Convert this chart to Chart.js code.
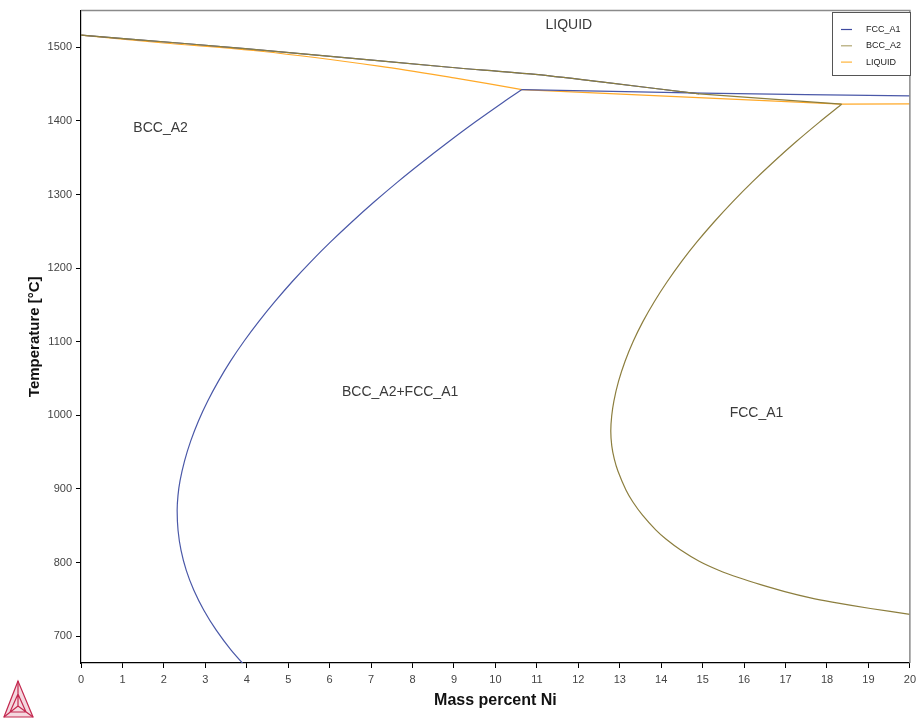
<!DOCTYPE html>
<html>
<head>
<meta charset="utf-8">
<script src="https://cdn.jsdelivr.net/npm/chart.js@4"></script>
<style>
  html, body { margin: 0; padding: 0; background: #fff; }
</style>
</head>
<body>
<canvas id="diagram" width="921" height="720"></canvas>
<script>
// axis ticks
const niTicks = [0, 1, 2, 3, 4, 5, 6, 7, 8, 9, 10, 11, 12, 13, 14, 15, 16, 17, 18, 19, 20];
const tempTicks = [700, 800, 900, 1000, 1100, 1200, 1300, 1400, 1500];

// upper liquidus line (drawn by both FCC_A1 and BCC_A2)
const liquidusNi = [0, 2.5, 5.42, 8.89, 10.84, 12.5, 14.92];
const liquidusT = [1516.6, 1505.3, 1490.9, 1473.0, 1463.9, 1453.4, 1436.8];
const bccTopNi = [14.92, 18.35];
const bccTopT = [1436.8, 1422.8];

// FCC_A1 lines
const fccTopNi = [10.64, 15.0, 20];
const fccTopT = [1442.7, 1437.9, 1434.0];
const fccBoundNi = [10.643, 10.188, 9.511, 8.863, 8.239, 7.643, 7.077, 6.540, 6.029, 5.549, 5.099, 4.682,
  4.292, 3.933, 3.607, 3.316, 3.058, 2.834, 2.648, 2.499, 2.390, 2.340, 2.320, 2.342, 2.414, 2.540,
  2.723, 2.964, 3.263, 3.622, 4.046];
const fccBoundT = [1442.7, 1425.5, 1398.5, 1371.4, 1344.3, 1317.3, 1290.2, 1263.1, 1236.0, 1209.0, 1181.9, 1154.8,
  1127.7, 1100.7, 1073.6, 1046.5, 1019.5, 992.4, 965.3, 938.2, 911.2, 890.9, 870.6, 843.5, 816.4, 789.3,
  762.3, 735.2, 708.1, 681.1, 654.0];

// BCC_A2 boundary of the FCC field
const bccBoundNi = [18.354, 17.817, 17.246, 16.708, 16.200, 15.723, 15.280, 14.867, 14.489, 14.147, 13.836,
  13.561, 13.325, 13.128, 12.971, 12.858, 12.805, 12.783, 12.807, 12.867, 12.957, 13.149, 13.313, 13.549,
  13.867, 14.113, 14.470, 14.916, 15.386, 15.880, 16.398, 17.005, 17.602, 18.128, 19.048, 20];
const bccBoundT = [1422.8, 1398.5, 1371.4, 1344.3, 1317.3, 1290.2, 1263.1, 1236.0, 1209.0, 1181.9, 1154.8,
  1127.7, 1100.7, 1073.6, 1046.5, 1019.5, 999.2, 978.9, 958.5, 940.8, 924.0, 898.6, 882.6, 864.3,
  844.4, 832.0, 817.0, 801.8, 789.6, 779.3, 770.0, 760.2, 752.0, 746.3, 737.6, 729.6];

// LIQUID lines
const liqSolidusNi = [0, 2.0, 4.34, 7.23, 9.0, 10.64];
const liqSolidusT = [1516.6, 1506.0, 1494.8, 1474.3, 1458.5, 1442.7];
const liqFlatNi = [10.64, 18.35, 20];
const liqFlatT = [1442.7, 1422.8, 1423.3];

// region names
const regionNames = ['LIQUID', 'BCC_A2', 'BCC_A2+FCC_A1', 'FCC_A1'];
const regionNi = [11.77, 1.92, 7.70, 16.30];
const regionT = [1529.8, 1390.4, 1031.6, 1003.2];

const phaseNames = ['FCC_A1', 'BCC_A2', 'LIQUID'];
const phaseColors = ['#4a58a8', '#8c7e3e', '#ffa928'];
const legendColors = ['#3e4aa0', '#b0a672', '#ffb43a'];

function pts(xs, ys) {
  return xs.map((x, i) => ({ x, y: ys[i] }));
}

function line(phase, xs, ys, tension) {
  return {
    label: phaseNames[phase],
    data: pts(xs, ys),
    borderColor: phaseColors[phase],
    borderWidth: 1.2,
    pointRadius: 0,
    showLine: true,
    fill: false,
    tension: tension,
  };
}

const datasets = [
  line(1, liquidusNi, liquidusT, 0.3),
  line(1, bccTopNi, bccTopT, 0),
  line(1, bccBoundNi, bccBoundT, 0.25),
  line(0, liquidusNi, liquidusT, 0.3),
  line(0, fccTopNi, fccTopT, 0.2),
  line(0, fccBoundNi, fccBoundT, 0.25),
  line(2, liqSolidusNi, liqSolidusT, 0.3),
  line(2, liqFlatNi, liqFlatT, 0),
];

const extras = {
  id: 'extras',
  afterDraw(chart) {
    const ctx = chart.ctx;
    const area = chart.chartArea;
    const xs = chart.scales.x;
    const ys = chart.scales.y;
    ctx.save();

    // grey frame on top and right
    ctx.strokeStyle = '#8a8a8a';
    ctx.lineWidth = 1.5;
    ctx.beginPath();
    ctx.moveTo(area.left, area.top);
    ctx.lineTo(area.right, area.top);
    ctx.lineTo(area.right, area.bottom);
    ctx.stroke();

    // region labels
    ctx.fillStyle = '#3a3a3a';
    ctx.font = '14px "Liberation Sans", Arial, sans-serif';
    ctx.textAlign = 'center';
    ctx.textBaseline = 'middle';
    regionNames.forEach((name, i) => {
      ctx.fillText(name, xs.getPixelForValue(regionNi[i]), ys.getPixelForValue(regionT[i]));
    });

    // legend box
    const lx = 832.5, ly = 12.5, lw = 78, lh = 63;
    ctx.fillStyle = '#fff';
    ctx.fillRect(lx, ly, lw, lh);
    ctx.strokeStyle = '#555';
    ctx.lineWidth = 1;
    ctx.strokeRect(lx, ly, lw, lh);
    ctx.font = '9px "Liberation Sans Narrow", "Liberation Sans", sans-serif';
    ctx.textAlign = 'left';
    phaseNames.forEach((name, i) => {
      const y = 29.5 + i * 16.3;
      ctx.strokeStyle = legendColors[i];
      ctx.lineWidth = 1.2;
      ctx.beginPath();
      ctx.moveTo(841, y);
      ctx.lineTo(852, y);
      ctx.stroke();
      ctx.fillStyle = '#222';
      ctx.fillText(name, 866, y);
    });

    // logo
    ctx.strokeStyle = '#c3284f';
    ctx.fillStyle = 'rgba(195, 40, 79, 0.18)';
    ctx.lineWidth = 1.2;
    ctx.beginPath();
    ctx.moveTo(18, 681);
    ctx.lineTo(4, 717);
    ctx.lineTo(33, 717);
    ctx.closePath();
    ctx.fill();
    ctx.stroke();
    ctx.beginPath();
    ctx.moveTo(18, 681); ctx.lineTo(18, 706);
    ctx.moveTo(4, 717); ctx.lineTo(18, 706);
    ctx.moveTo(33, 717); ctx.lineTo(18, 706);
    ctx.moveTo(10, 712); ctx.lineTo(26, 712);
    ctx.moveTo(10, 712); ctx.lineTo(18, 694);
    ctx.moveTo(26, 712); ctx.lineTo(18, 694);
    ctx.stroke();
    ctx.restore();
  }
};

const tickFont = { family: '"Liberation Sans", Arial, sans-serif', size: 11 };
const titleFont = { family: '"Liberation Sans", Arial, sans-serif', size: 16, weight: 'bold' };

new Chart(document.getElementById('diagram'), {
  type: 'scatter',
  data: { datasets },
  options: {
    responsive: false,
    animation: false,
    layout: { padding: { top: 7, right: 9, left: 0, bottom: 0 } },
    plugins: {
      legend: { display: false },
      tooltip: { enabled: false },
    },
    scales: {
      x: {
        type: 'linear',
        min: 0,
        max: 20,
        afterFit: s => { s.height = 57; },
        afterBuildTicks: s => { s.ticks = niTicks.map(v => ({ value: v })); },
        ticks: { color: '#444', font: tickFont, padding: 5, maxRotation: 0, autoSkip: false,
          callback: v => String(v) },
        grid: { display: true, drawOnChartArea: false, drawTicks: true, tickLength: 5, color: '#000' },
        border: { display: true, color: '#000', width: 1.2 },
        title: { display: true, text: 'Mass percent Ni', color: '#111', font: titleFont,
          padding: { top: 0, bottom: 10 } },
      },
      y: {
        type: 'linear',
        min: 663.5,
        max: 1550,
        afterFit: s => { s.width = 81; },
        afterBuildTicks: s => { s.ticks = tempTicks.map(v => ({ value: v })); },
        ticks: { color: '#444', font: tickFont, padding: 4, autoSkip: false,
          callback: v => String(v) },
        grid: { display: true, drawOnChartArea: false, drawTicks: true, tickLength: 5, color: '#000' },
        border: { display: true, color: '#000', width: 1.2 },
        title: { display: true, text: 'Temperature [°C]', color: '#111',
          font: { family: '"Liberation Sans", Arial, sans-serif', size: 15, weight: 'bold' },
          padding: { top: 26, bottom: 0 } },
      },
    },
  },
  plugins: [extras],
});
</script>
</body>
</html>
